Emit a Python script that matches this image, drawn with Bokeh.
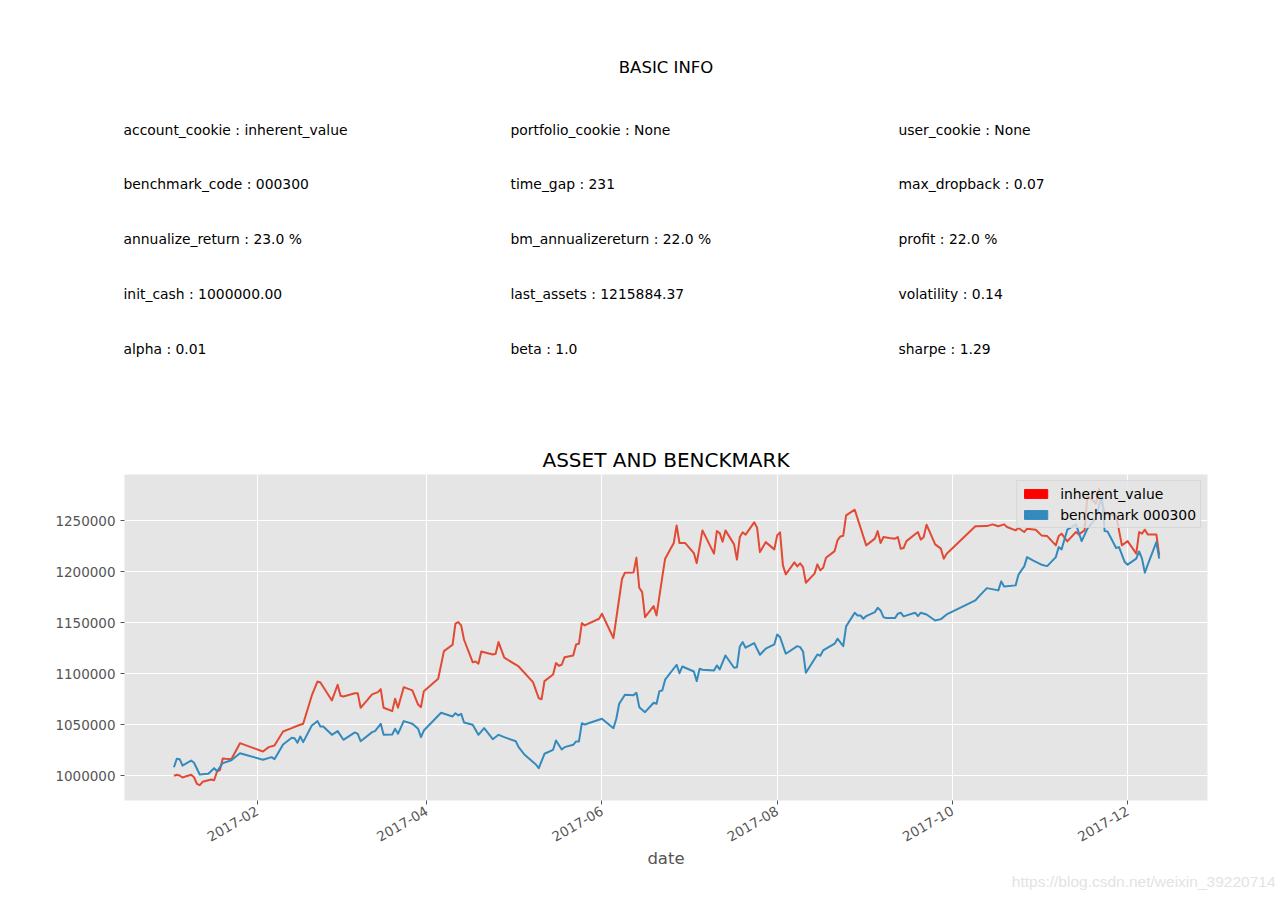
import math
from datetime import datetime, timedelta

import pandas as pd
from bokeh.plotting import figure
from bokeh.layouts import column
from bokeh.models import (Range1d, FixedTicker, DatetimeTickFormatter, NumeralTickFormatter,
                          Legend, LegendItem)
from bokeh.core.properties import value
from bokeh.embed import file_html
from bokeh.resources import INLINE

FONT = "DejaVu Sans"
NAN = float("nan")

# ---------------- data ----------------
info_keys = ["account_cookie", "portfolio_cookie", "user_cookie",
             "benchmark_code", "time_gap", "max_dropback",
             "annualize_return", "bm_annualizereturn", "profit",
             "init_cash", "last_assets", "volatility",
             "alpha", "beta", "sharpe"]
info_values = ["inherent_value", "None", "None",
               "000300", "231", "0.07",
               "23.0 %", "22.0 %", "22.0 %",
               "1000000.00", "1215884.37", "0.14",
               "0.01", "1.0", "1.29"]

asset_dates = [
    "2017-01-03", "2017-01-04", "2017-01-05", "2017-01-06", "2017-01-07", "2017-01-09", "2017-01-10",
    "2017-01-11", "2017-01-12", "2017-01-13", "2017-01-15", "2017-01-16", "2017-01-17", "2017-01-18",
    "2017-01-19", "2017-01-20", "2017-01-21", "2017-01-23", "2017-01-26", "2017-02-03", "2017-02-05",
    "2017-02-07", "2017-02-10", "2017-02-13", "2017-02-15", "2017-02-17", "2017-02-20", "2017-02-22",
    "2017-02-23", "2017-02-27", "2017-03-01", "2017-03-02", "2017-03-03", "2017-03-07", "2017-03-08",
    "2017-03-09", "2017-03-13", "2017-03-15", "2017-03-16", "2017-03-17", "2017-03-20", "2017-03-21",
    "2017-03-22", "2017-03-24", "2017-03-27", "2017-03-29", "2017-03-30", "2017-03-31", "2017-04-05",
    "2017-04-07", "2017-04-10", "2017-04-11", "2017-04-12", "2017-04-13", "2017-04-14", "2017-04-17",
    "2017-04-18", "2017-04-19", "2017-04-20", "2017-04-24", "2017-04-25", "2017-04-26", "2017-04-28",
    "2017-05-03", "2017-05-08", "2017-05-10", "2017-05-11", "2017-05-12", "2017-05-15", "2017-05-16",
    "2017-05-17", "2017-05-18", "2017-05-19", "2017-05-22", "2017-05-23", "2017-05-24", "2017-05-25",
    "2017-05-26", "2017-05-31", "2017-06-01", "2017-06-05", "2017-06-08", "2017-06-09", "2017-06-12",
    "2017-06-13", "2017-06-14", "2017-06-15", "2017-06-16", "2017-06-19", "2017-06-20", "2017-06-22",
    "2017-06-23", "2017-06-26", "2017-06-27", "2017-06-28", "2017-06-30", "2017-07-03", "2017-07-04",
    "2017-07-06", "2017-07-10", "2017-07-11", "2017-07-12", "2017-07-13", "2017-07-14", "2017-07-17",
    "2017-07-18", "2017-07-19", "2017-07-20", "2017-07-21", "2017-07-24", "2017-07-25", "2017-07-26",
    "2017-07-28", "2017-07-31", "2017-08-01", "2017-08-02", "2017-08-03", "2017-08-04", "2017-08-07",
    "2017-08-08", "2017-08-09", "2017-08-10", "2017-08-11", "2017-08-14", "2017-08-15", "2017-08-16",
    "2017-08-17", "2017-08-18", "2017-08-21", "2017-08-22", "2017-08-23", "2017-08-24", "2017-08-25",
    "2017-08-28", "2017-09-01", "2017-09-04", "2017-09-05", "2017-09-06", "2017-09-07", "2017-09-09",
    "2017-09-11", "2017-09-12", "2017-09-13", "2017-09-14", "2017-09-15", "2017-09-19", "2017-09-20",
    "2017-09-21", "2017-09-22", "2017-09-25", "2017-09-27", "2017-09-28", "2017-09-29", "2017-10-09",
    "2017-10-13", "2017-10-15", "2017-10-17", "2017-10-19", "2017-10-20", "2017-10-23", "2017-10-24",
    "2017-10-26", "2017-10-27", "2017-10-30", "2017-11-01", "2017-11-03", "2017-11-06", "2017-11-07",
    "2017-11-08", "2017-11-10", "2017-11-13", "2017-11-14", "2017-11-16", "2017-11-17", "2017-11-20",
    "2017-11-21", "2017-11-23", "2017-11-27", "2017-11-29", "2017-12-01", "2017-12-04", "2017-12-05",
    "2017-12-06", "2017-12-07", "2017-12-08", "2017-12-11", "2017-12-12"]
asset_values = [
    999700, 1000700, 1000000, 998000, 999000, 1000700, 998300,
    991900, 990500, 993800, 995400, 996100, 995400, 1003900,
    1005200, 1016700, 1016400, 1016000, 1031700, 1023500, 1027800,
    1029400, 1043200, 1046400, 1048800, 1050700, 1078500, 1092200,
    1091200, 1073600, 1089000, 1078200, 1077500, 1080700, 1080700,
    1066400, 1079500, 1081700, 1084700, 1066400, 1063100, 1075200,
    1066400, 1086600, 1083400, 1069600, 1067000, 1082700, 1094900,
    1121900, 1128200, 1148800, 1150400, 1147100, 1133100, 1111100,
    1111800, 1109600, 1121600, 1118700, 1119400, 1130800, 1115500,
    1106900, 1091500, 1075800, 1074800, 1092500, 1099100, 1110200,
    1107600, 1108600, 1116000, 1117700, 1128500, 1129200, 1149400,
    1147100, 1153700, 1158600, 1134700, 1192900, 1198800, 1199100,
    1213500, 1184100, 1179800, 1155300, 1166100, 1156900, 1194500,
    1212600, 1227900, 1245200, 1227900, 1227900, 1218100, 1208200,
    1240300, 1217500, 1239600, 1237700, 1229200, 1240300, 1226600,
    1211600, 1233800, 1238400, 1236100, 1248200, 1243000, 1219000,
    1228800, 1221700, 1235400, 1238400, 1206000, 1197200, 1208900,
    1205000, 1208000, 1204300, 1189000, 1197900, 1207000, 1201100,
    1203700, 1213500, 1220000, 1230500, 1234400, 1235100, 1255000,
    1260600, 1225600, 1232200, 1239600, 1227900, 1233800, 1232800,
    1232200, 1233800, 1222400, 1223000, 1229800, 1238700, 1231200,
    1233800, 1245900, 1226600, 1222400, 1212600, 1217500, 1244300,
    1244500, 1246200, 1244300, 1246200, 1243600, 1240300, 1242600,
    1238700, 1242000, 1241000, 1235400, 1234700, 1225600, 1234700,
    1237100, 1229500, 1238700, 1236400, 1240300, 1274700, 1266500,
    1281200, 1256700, 1255000, 1225600, 1229800, 1217500, 1238700,
    1237100, 1241000, 1236400, 1236400, 1215884]

bench_dates = [
    "2017-01-03", "2017-01-04", "2017-01-05", "2017-01-06", "2017-01-09", "2017-01-10", "2017-01-12",
    "2017-01-15", "2017-01-17", "2017-01-18", "2017-01-20", "2017-01-23", "2017-01-26", "2017-02-03",
    "2017-02-06", "2017-02-07", "2017-02-10", "2017-02-13", "2017-02-14", "2017-02-15", "2017-02-16",
    "2017-02-17", "2017-02-20", "2017-02-22", "2017-02-23", "2017-02-24", "2017-02-27", "2017-03-01",
    "2017-03-03", "2017-03-07", "2017-03-08", "2017-03-09", "2017-03-13", "2017-03-14", "2017-03-16",
    "2017-03-17", "2017-03-20", "2017-03-21", "2017-03-22", "2017-03-24", "2017-03-27", "2017-03-29",
    "2017-03-30", "2017-03-31", "2017-04-06", "2017-04-10", "2017-04-11", "2017-04-12", "2017-04-13",
    "2017-04-14", "2017-04-17", "2017-04-19", "2017-04-21", "2017-04-24", "2017-04-26", "2017-04-28",
    "2017-05-02", "2017-05-03", "2017-05-05", "2017-05-09", "2017-05-10", "2017-05-12", "2017-05-15",
    "2017-05-16", "2017-05-18", "2017-05-19", "2017-05-22", "2017-05-23", "2017-05-24", "2017-05-25",
    "2017-05-26", "2017-06-01", "2017-06-05", "2017-06-06", "2017-06-07", "2017-06-09", "2017-06-12",
    "2017-06-13", "2017-06-14", "2017-06-16", "2017-06-19", "2017-06-20", "2017-06-21", "2017-06-22",
    "2017-06-23", "2017-06-27", "2017-06-28", "2017-06-29", "2017-07-03", "2017-07-04", "2017-07-05",
    "2017-07-06", "2017-07-10", "2017-07-11", "2017-07-12", "2017-07-14", "2017-07-17", "2017-07-18",
    "2017-07-19", "2017-07-20", "2017-07-21", "2017-07-24", "2017-07-26", "2017-07-28", "2017-07-31",
    "2017-08-01", "2017-08-02", "2017-08-04", "2017-08-08", "2017-08-09", "2017-08-10", "2017-08-11",
    "2017-08-15", "2017-08-16", "2017-08-17", "2017-08-21", "2017-08-22", "2017-08-24", "2017-08-25",
    "2017-08-28", "2017-08-29", "2017-08-30", "2017-08-31", "2017-09-01", "2017-09-04", "2017-09-05",
    "2017-09-06", "2017-09-07", "2017-09-08", "2017-09-11", "2017-09-12", "2017-09-13", "2017-09-14",
    "2017-09-18", "2017-09-19", "2017-09-20", "2017-09-22", "2017-09-25", "2017-09-27", "2017-09-29",
    "2017-10-09", "2017-10-10", "2017-10-13", "2017-10-17", "2017-10-18", "2017-10-19", "2017-10-23",
    "2017-10-24", "2017-10-26", "2017-10-27", "2017-10-29", "2017-11-01", "2017-11-03", "2017-11-06",
    "2017-11-07", "2017-11-08", "2017-11-10", "2017-11-13", "2017-11-15", "2017-11-17", "2017-11-20",
    "2017-11-22", "2017-11-23", "2017-11-24", "2017-11-27", "2017-11-28", "2017-11-30", "2017-12-01",
    "2017-12-04", "2017-12-05", "2017-12-06", "2017-12-07", "2017-12-08", "2017-12-11", "2017-12-12"]
bench_values = [
    1008100, 1016400, 1016000, 1009800, 1014700, 1012500, 1001000,
    1001700, 1007200, 1004200, 1012100, 1015000, 1021900, 1015400,
    1018000, 1016000, 1030400, 1037000, 1036600, 1032100, 1038300,
    1032700, 1049000, 1053300, 1048100, 1048100, 1039900, 1043500,
    1035000, 1042200, 1040900, 1033600, 1042500, 1043500, 1050700,
    1039900, 1040200, 1045800, 1040900, 1053300, 1050700, 1045800,
    1037600, 1044100, 1061500, 1057900, 1061100, 1058900, 1060500,
    1052000, 1049700, 1039900, 1046400, 1035600, 1039900, 1037600,
    1033600, 1027800, 1020600, 1010800, 1007200, 1021300, 1025200,
    1034300, 1025500, 1027800, 1030100, 1033400, 1033400, 1051300,
    1050000, 1055600, 1046400, 1055600, 1070300, 1079200, 1078800,
    1081100, 1067000, 1062100, 1071300, 1070300, 1082700, 1083400,
    1093900, 1108600, 1100300, 1106900, 1102000, 1092500, 1104700,
    1103700, 1103000, 1107900, 1104000, 1117700, 1105600, 1106200,
    1126500, 1130800, 1125300, 1129800, 1118400, 1124300, 1128500,
    1138300, 1135700, 1119400, 1126800, 1125900, 1121600, 1100700,
    1118700, 1117400, 1122600, 1129200, 1134100, 1126800, 1146200,
    1159600, 1156900, 1156900, 1153700, 1156300, 1160200, 1164500,
    1161800, 1155300, 1154300, 1154300, 1158600, 1159600, 1156000,
    1159600, 1156300, 1159600, 1157900, 1152000, 1153300, 1157900,
    1171600, 1174900, 1183700, 1181500, 1190300, 1185400, 1186400,
    1196900, 1205000, 1214100, 1210900, 1206700, 1205300, 1214100,
    1223900, 1221700, 1241000, 1246200, 1229800, 1242000, 1252400,
    1275600, 1239600, 1239300, 1223000, 1223900, 1209200, 1206700,
    1212600, 1219700, 1212600, 1198800, 1206700, 1228800, 1212600]

x_tick_labels = ["2017-02", "2017-04", "2017-06", "2017-08", "2017-10", "2017-12"]
y_ticks = [1000000, 1050000, 1100000, 1150000, 1200000, 1250000]

series_names = ["inherent_value", "benchmark 000300"]
line_colors = ["#E24A33", "#348ABD"]
legend_colors = ["#FF0000", "#348ABD"]
watermark = "https://blog.csdn.net/weixin_39220714"

# ---------------- layout constants ----------------
W = 1276
TOP_H = 408
BOT_H = 463
WM_H = 22


def text_panel(height):
    f = figure(width=W, height=height, x_range=Range1d(0, W), y_range=Range1d(height, 0),
               output_backend="svg", toolbar_location=None, min_border=0)
    f.frame_align = False
    f.xaxis.visible = False
    f.yaxis.visible = False
    f.grid.visible = False
    f.outline_line_color = None
    f.background_fill_color = "white"
    f.border_fill_color = "white"
    return f


# ---------------- top (text) panel ----------------
top = text_panel(TOP_H)
top.text(x=[665.5], y=[67], text=["BASIC INFO"], text_font=value(FONT),
         text_font_size="16.5px", text_align="center", text_baseline="middle", text_color="black")

col_x = [123, 510, 898]
row_y0, row_dy = 129, 54.8
xs, ys, texts = [], [], []
for i, (k, v) in enumerate(zip(info_keys, info_values)):
    r, c = divmod(i, 3)
    xs.append(col_x[c])
    ys.append(row_y0 + r * row_dy)
    texts.append(f"{k} : {v}")
top.text(x=xs, y=ys, text=texts, text_font=value(FONT), text_font_size="13.9px",
         text_align="left", text_baseline="middle", text_color="black")

# ---------------- bottom (chart) panel ----------------
jan1 = datetime(2017, 1, 1)
x0 = jan1 - timedelta(days=15.2)
x1 = jan1 + timedelta(days=361.8)

p = figure(width=W, height=BOT_H, x_axis_type="datetime",
           x_range=Range1d(x0, x1), y_range=Range1d(975500, 1295100),
           output_backend="svg", toolbar_location=None, title="ASSET AND BENCKMARK",
           min_border_left=124, min_border_right=69, min_border_top=66, min_border_bottom=71)
p.frame_align = False

p.title.text_font = FONT
p.title.text_font_size = "20px"
p.title.text_font_style = "normal"
p.title.text_color = "black"
p.title.align = "center"
p.title.standoff = 6

p.background_fill_color = "#E5E5E5"
p.border_fill_color = "white"
p.outline_line_color = None
p.grid.grid_line_color = "white"
p.grid.grid_line_width = 1

tick_ts = [pd.Timestamp(t + "-01") for t in x_tick_labels]
p.xaxis.ticker = FixedTicker(ticks=[t.value / 1e6 for t in tick_ts])
p.xaxis.formatter = DatetimeTickFormatter(months="%Y-%m", days="%Y-%m", years="%Y-%m")
p.xaxis.major_label_orientation = math.pi / 6
p.xaxis.axis_label = "date"
p.xaxis.axis_label_text_font = FONT
p.xaxis.axis_label_text_font_size = "16.5px"
p.xaxis.axis_label_text_font_style = "normal"
p.xaxis.axis_label_text_color = "#555555"
p.xaxis.axis_label_standoff = 0

p.yaxis.ticker = FixedTicker(ticks=y_ticks)
p.yaxis.formatter = NumeralTickFormatter(format="0")

for ax in (p.xaxis, p.yaxis):
    ax.axis_line_color = None
    ax.major_tick_line_color = "#555555"
    ax.major_tick_out = 4
    ax.major_tick_in = 0
    ax.minor_tick_line_color = None
    ax.major_label_text_color = "#555555"
    ax.major_label_text_font = FONT
    ax.major_label_text_font_size = "13.5px"

asset_x = pd.to_datetime(asset_dates)
bench_x = pd.to_datetime(bench_dates)
p.line(asset_x, asset_values, line_color=line_colors[0], line_width=2, line_join="round")
p.line(bench_x, bench_values, line_color=line_colors[1], line_width=2, line_join="round")

# legend uses coloured patches (proxy glyphs with no visible data)
leg_renderers = []
for col in legend_colors:
    r = p.quad(left=[NAN], right=[NAN], top=[NAN], bottom=[NAN], fill_color=col, line_color=col)
    leg_renderers.append(r)
legend = Legend(items=[LegendItem(label=n, renderers=[r]) for n, r in zip(series_names, leg_renderers)],
                location="top_right", margin=6, padding=4, spacing=4,
                glyph_width=29, glyph_height=11, label_standoff=10, label_height=17,
                label_text_font=FONT, label_text_font_size="13.9px", label_text_color="black",
                background_fill_color="#E5E5E5", background_fill_alpha=0.8,
                border_line_color="#CCCCCC", border_line_width=1)
p.add_layout(legend)

# ---------------- watermark strip ----------------
wm = text_panel(WM_H)
wm.text(x=[W - 1], y=[10], text=[watermark], text_font=value("Liberation Sans"),
        text_font_size="15.5px", text_align="right", text_baseline="middle", text_color="#e3e3e3")

layout = column(top, p, wm, spacing=0)
open("out.html", "w").write(file_html(layout, INLINE))
